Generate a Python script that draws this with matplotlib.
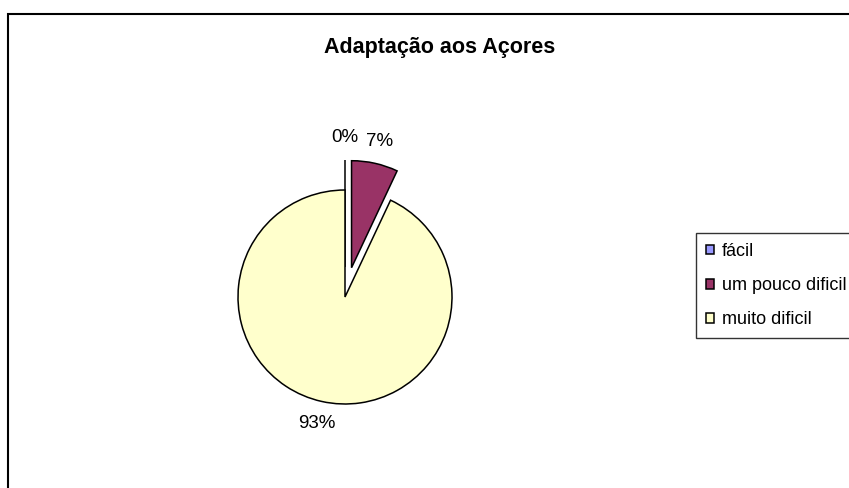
import matplotlib
matplotlib.use('Agg')
import matplotlib.pyplot as plt
from matplotlib.patches import Rectangle

plt.rcParams['font.family'] = ['Liberation Sans', 'DejaVu Sans']

title = 'Adaptação aos Açores'
categories = ['fácil', 'um pouco dificil', 'muito dificil']
values = [0, 7, 93]
colors = ['#9999FF', '#993366', '#FFFFCC']
explode = [30, 30, 0]   # pixels, the axes works in pixel units

W, H = 849, 488
fig = plt.figure(figsize=(W / 100, H / 100), dpi=100)
ax = fig.add_axes([0, 0, 1, 1])
ax.set_xlim(0, W)
ax.set_ylim(0, H)
ax.set_aspect('equal')
ax.axis('off')

# chart frame (right and bottom fall outside the picture)
fig.patches.append(Rectangle((8 / W, -0.1), 1.2, 1 - 14 / H + 0.1,
                             transform=fig.transFigure, fill=False,
                             edgecolor='black', linewidth=1.5))

wedges, texts, autotexts = ax.pie(
    values, colors=colors, explode=explode, startangle=90, counterclock=False,
    center=(345, H - 297), radius=107, autopct='%1.0f%%', pctdistance=1.21,
    wedgeprops=dict(edgecolor='black', linewidth=1.1),
    textprops=dict(fontsize=13.5, color='black'))
ax.set_xlim(0, W)
ax.set_ylim(0, H)

fig.text(440 / W, 1 - 47 / H, title, ha='center', va='center',
         fontsize=15.5, fontweight='bold')

# the legend box runs past the right edge, as in the original
leg = fig.legend(wedges, categories, loc='upper left',
                 bbox_to_anchor=(696 / W, 1 - 233 / H), fontsize=13,
                 frameon=True, fancybox=False, borderaxespad=0,
                 handlelength=0.47, handleheight=0.47, handletextpad=0.4,
                 labelspacing=0.95, borderpad=0.55)
leg.get_frame().set_edgecolor('black')
leg.get_frame().set_linewidth(1.0)

fig.savefig('out.png', dpi=100)
